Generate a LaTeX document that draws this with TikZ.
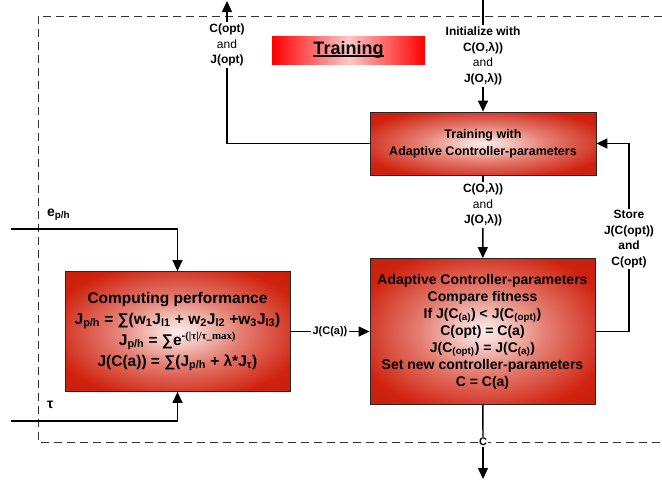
\documentclass[tikz,border=0pt]{standalone}
\usepackage{fontspec}
\setmainfont{Liberation Sans}
\newfontfamily\serifbold{Liberation Serif}
\usetikzlibrary{arrows.meta,calc}
\definecolor{boxred}{RGB}{208,34,14}
\pgfdeclareradialshading{glow}{\pgfpoint{0bp}{0bp}}{color(0bp)=(white!92!red); color(4bp)=(boxred!20!white); color(14bp)=(boxred!58!white); color(29bp)=(boxred); color(50bp)=(boxred!85!black)}
\newcommand\myuline[1]{\setbox0\hbox{#1}\rlap{\rule[-2.4pt]{\wd0}{1.7pt}}\box0}
\tikzset{
  conn/.style={line width=1.4pt},
  arr/.style={conn,-{Triangle[length=11pt,width=10pt]}},
  frame/.style={line width=0.9pt, dash pattern=on 8pt off 5pt, black!80},
  redbox/.style={draw=black!85, line width=0.8pt, shading=glow, align=center, inner sep=0pt},
  lbl/.style={align=center, font=\fontsize{12}{15.5}\selectfont\bfseries, inner sep=1.5pt, fill=white},
  smalllbl/.style={font=\fontsize{11}{13}\selectfont\bfseries, inner sep=1pt, fill=white},
  plainlbl/.style={font=\fontsize{14}{16}\selectfont\bfseries, inner sep=0pt},
  trainlbl/.style={left color=red, right color=red, middle color=red!22!white, minimum width=153pt, minimum height=28pt, inner sep=0pt, font=\fontsize{18}{20}\selectfont\bfseries}
}
\begin{document}
\begin{tikzpicture}[x=1pt,y=-1pt]
\useasboundingbox (0,0) rectangle (662,483);
\fill[white] (0,0) rectangle (662,483);
\draw[frame] (662,16) -- (38,16) -- (38,442) -- (662,442);

\node[trainlbl] (tl) at (348.5,50) {\myuline{Training}};

\node[redbox, minimum width=226pt, minimum height=63pt, font=\fontsize{12.5}{17}\selectfont\bfseries] (tb) at (483,143.5) {Training with\\Adaptive Controller-parameters};

\node[redbox, minimum width=225pt, minimum height=146pt, font=\fontsize{14}{17}\selectfont\bfseries] (ab) at (482.5,331.5) {Adaptive Controller-parameters\\Compare fitness\\If J(C\textsubscript{(a)}) < J(C\textsubscript{(opt)})\\C(opt) = C(a)\\J(C\textsubscript{(opt)}) = J(C\textsubscript{(a)})\\Set new controller-parameters\\C = C(a)};

\node[redbox, minimum width=225pt, minimum height=120pt, font=\fontsize{15.5}{21}\selectfont\bfseries] (cb) at (177.5,331.5) {Computing performance\\J\textsubscript{p/h} = ∑(w\textsubscript{1}J\textsubscript{l1} + w\textsubscript{2}J\textsubscript{l2} +w\textsubscript{3}J\textsubscript{l3})\\J\textsubscript{p/h} = ∑e\textsuperscript{-{\serifbold\bfseries(|τ|/τ\_max)}}\\J(C(a)) = ∑(J\textsubscript{p/h} + λ*J\textsubscript{τ})};

\node[lbl] (init) at (483,56) {Initialize with\\C(O,λ))\\{\mdseries and}\\J(O,λ))};
\node[lbl] (copt) at (227,45) {C(opt)\\{\mdseries and}\\J(opt)};
\node[lbl] (mid) at (483,205) {C(O,λ))\\{\mdseries and}\\J(O,λ))};
\node[lbl] (store) at (629,239) {Store\\J(C(opt))\\and\\C(opt)};
\node[smalllbl] (jca) at (330,331.5) {J(C(a))};
\node[smalllbl] (cout) at (483,442) {C};
\node[plainlbl, anchor=west] (elbl) at (47,215) {e\textsubscript{p/h}};
\node[plainlbl, anchor=west] (taulbl) at (47,405) {τ};

\coordinate (topin) at (483,0);
\coordinate (coptout) at (227,1);
\coordinate (ein) at (11,229);
\coordinate (tauin) at (11,421);
\coordinate (cend) at (483,479);

\draw[conn] (topin) -- (init);
\draw[arr] (init) -- (tb);
\draw[arr] (copt) -- (coptout);
\draw[conn] (copt) |- (tb);
\draw[conn] (tb) -- (mid);
\draw[arr] (mid) -- (ab);
\draw[conn] (ab.east) -| (store.south);
\draw[arr] (store.north) |- (tb.east);
\draw[arr] (ein) -| (cb.north);
\draw[arr] (tauin) -| (cb.south);
\draw[conn] (cb.east) -- (jca);
\draw[arr] (jca) -- (ab.west);
\draw[conn] (ab) -- (cout);
\draw[arr] (cout) -- (cend);
\end{tikzpicture}
\end{document}
